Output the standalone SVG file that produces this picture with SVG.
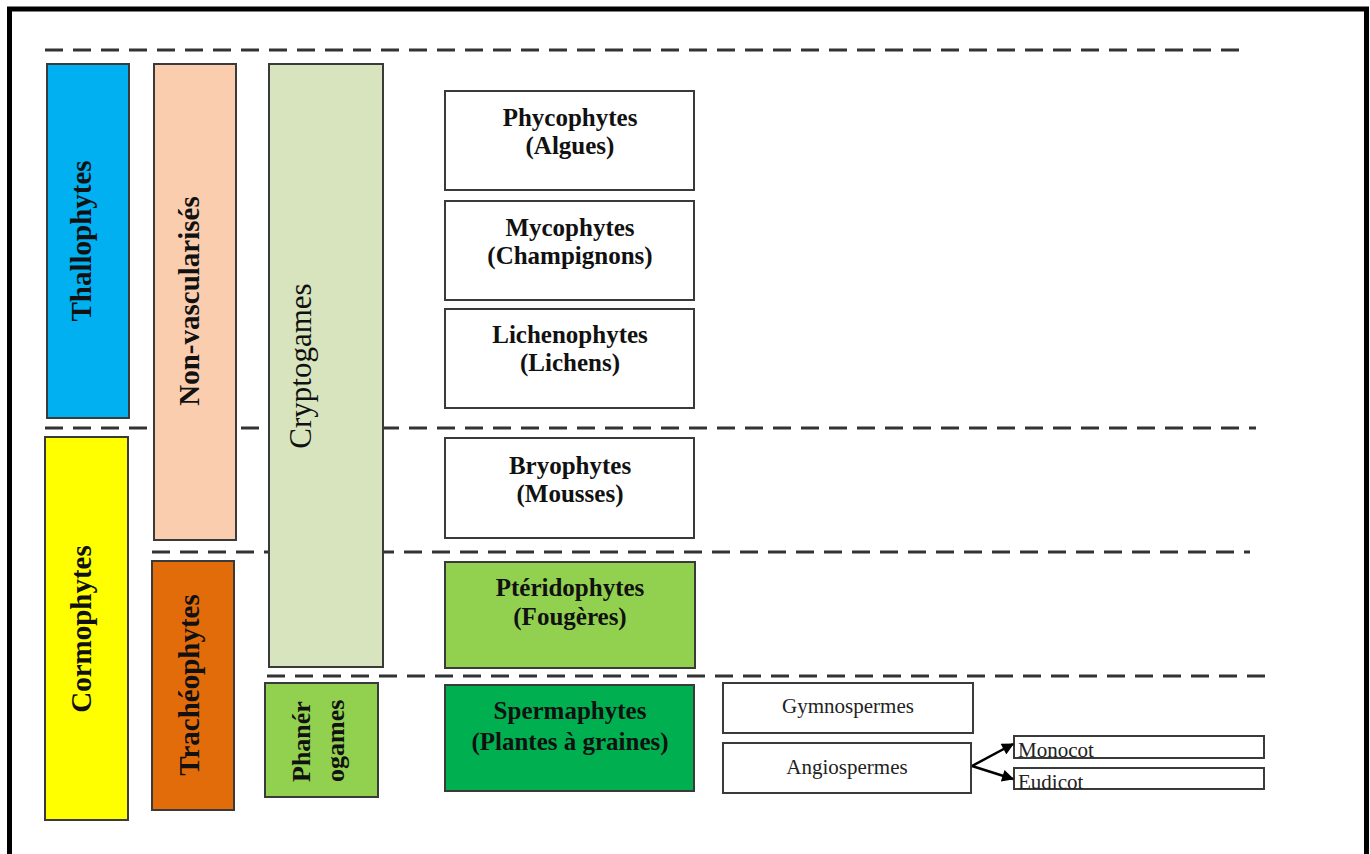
<svg xmlns="http://www.w3.org/2000/svg" width="1370" height="854" viewBox="0 0 1370 854">
<defs>
<marker id="arr" viewBox="0 0 10 10" refX="9" refY="5" markerWidth="13" markerHeight="12" markerUnits="userSpaceOnUse" orient="auto">
<path d="M0,0 L10,5 L0,10 z" fill="#000"/>
</marker>
<style>
.frame{fill:none;stroke:#000;stroke-width:5}
.dash{fill:none;stroke:#333;stroke-width:3;stroke-dasharray:18 10}
.box{stroke:#3a3a3a;stroke-width:2}
.vt{font-family:"Liberation Serif","Times New Roman",serif;font-weight:bold;font-size:29px;fill:#111}
.bt{font-family:"Liberation Serif","Times New Roman",serif;font-weight:bold;font-size:25px;fill:#111;text-anchor:middle}
.st{font-family:"Liberation Serif","Times New Roman",serif;font-size:21px;fill:#222}
.con{fill:none;stroke:#000;stroke-width:2.5}
</style>
</defs>
<rect width="1370" height="854" fill="#fff"/>
<path class="frame" d="M9.5,860 L9.5,9 L1366.5,9 L1366.5,860"/>

<g id="separators">
<line class="dash" x1="45" y1="50" x2="1240" y2="50"/>
<line class="dash" x1="45" y1="428" x2="1256" y2="428"/>
<line class="dash" x1="152" y1="552" x2="1250" y2="552"/>
<line class="dash" x1="267" y1="676" x2="1266" y2="676"/>
</g>

<g id="thallophytes">
<rect class="box" x="47" y="64" width="82" height="354" fill="#00b0f0"/>
<text class="vt" transform="translate(91,241) rotate(-90)" text-anchor="middle">Thallophytes</text>
</g>
<g id="cormophytes">
<rect class="box" x="45" y="437" width="83" height="383" fill="#ffff00"/>
<text class="vt" transform="translate(91,629) rotate(-90)" text-anchor="middle">Cormophytes</text>
</g>
<g id="non-vascularises">
<rect class="box" x="154" y="64" width="82" height="476" fill="#f9cdae"/>
<text class="vt" transform="translate(199,301) rotate(-90)" text-anchor="middle">Non-vascularisés</text>
</g>
<g id="tracheophytes">
<rect class="box" x="152" y="561" width="82" height="249" fill="#e36c0a"/>
<text class="vt" transform="translate(199,685) rotate(-90)" text-anchor="middle">Trachéophytes</text>
</g>
<g id="cryptogames">
<rect class="box" x="269" y="64" width="114" height="603" fill="#d7e4bd"/>
<text class="vt" style="font-weight:normal;font-size:31px" transform="translate(311,366) rotate(-90)" text-anchor="middle">Cryptogames</text>
</g>
<g id="phanerogames">
<rect class="box" x="265" y="683" width="113" height="114" fill="#92d050"/>
<text class="vt" style="font-size:26px" transform="translate(310,782) rotate(-90)">Phanér</text>
<text class="vt" style="font-size:26px" transform="translate(344,782) rotate(-90)">ogames</text>
</g>

<g id="phycophytes">
<rect class="box" x="445" y="91" width="249" height="99" fill="#fff"/>
<text class="bt" x="570" y="126">Phycophytes</text>
<text class="bt" x="570" y="154">(Algues)</text>
</g>
<g id="mycophytes">
<rect class="box" x="445" y="201" width="249" height="99" fill="#fff"/>
<text class="bt" x="570" y="236">Mycophytes</text>
<text class="bt" x="570" y="264">(Champignons)</text>
</g>
<g id="lichenophytes">
<rect class="box" x="445" y="309" width="249" height="99" fill="#fff"/>
<text class="bt" x="570" y="343">Lichenophytes</text>
<text class="bt" x="570" y="371">(Lichens)</text>
</g>
<g id="bryophytes">
<rect class="box" x="445" y="438" width="249" height="100" fill="#fff"/>
<text class="bt" x="570" y="474">Bryophytes</text>
<text class="bt" x="570" y="502">(Mousses)</text>
</g>
<g id="pteridophytes">
<rect class="box" x="445" y="562" width="250" height="106" fill="#92d050"/>
<text class="bt" x="570" y="596">Ptéridophytes</text>
<text class="bt" x="570" y="625">(Fougères)</text>
</g>
<g id="spermaphytes">
<rect class="box" x="445" y="685" width="249" height="106" fill="#00b050"/>
<text class="bt" x="570" y="719">Spermaphytes</text>
<text class="bt" x="570" y="750">(Plantes à graines)</text>
</g>

<g id="gymnospermes">
<rect class="box" x="723" y="683" width="250" height="50" fill="#fff"/>
<text class="st" x="848" y="713" text-anchor="middle">Gymnospermes</text>
</g>
<g id="angiospermes">
<rect class="box" x="723" y="743" width="248" height="50" fill="#fff"/>
<text class="st" x="847" y="774" text-anchor="middle">Angiospermes</text>
</g>
<g id="monocot">
<rect class="box" x="1014" y="736" width="250" height="22" fill="#fff"/>
<text class="st" x="1018" y="757">Monocot</text>
</g>
<g id="eudicot">
<rect class="box" x="1014" y="768" width="250" height="21" fill="#fff"/>
<text class="st" x="1018" y="789">Eudicot</text>
</g>

<g id="connectors">
<line class="con" x1="972" y1="766" x2="1013" y2="744" marker-end="url(#arr)"/>
<line class="con" x1="972" y1="766" x2="1013" y2="779" marker-end="url(#arr)"/>
</g>
</svg>
